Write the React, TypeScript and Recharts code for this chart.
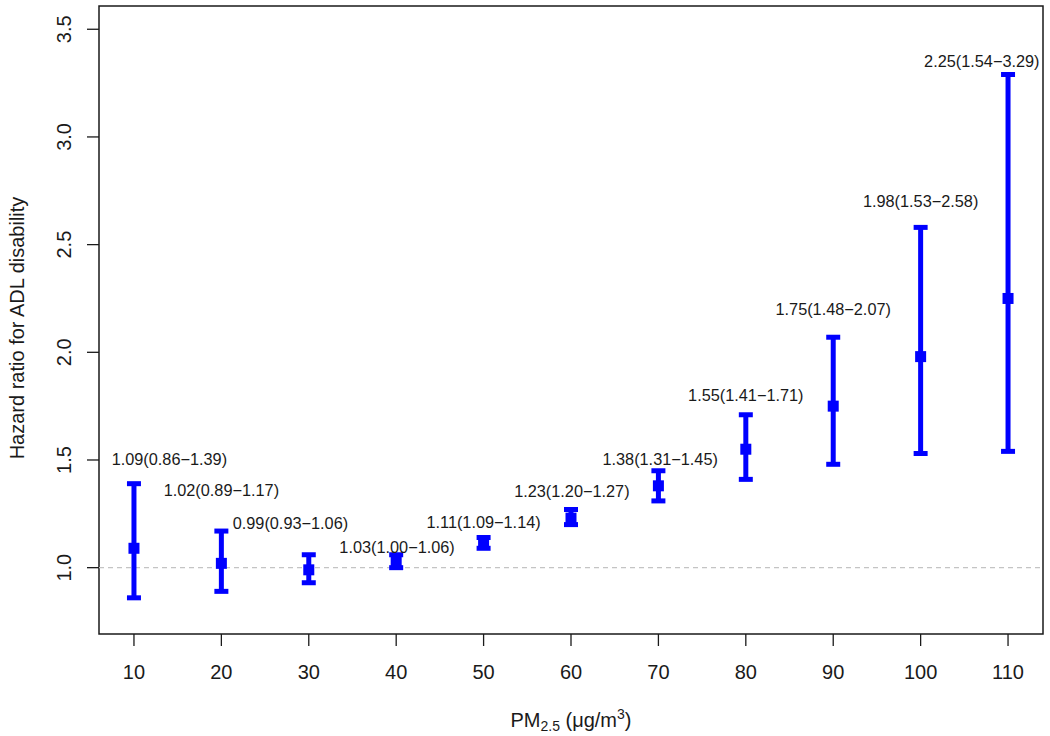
import React from 'react';
import {
  ComposedChart,
  Scatter,
  ErrorBar,
  XAxis,
  YAxis,
  ReferenceLine,
  ReferenceArea,
} from 'recharts';

// PM2.5 levels and hazard ratios (95% CI)
const pm = [10, 20, 30, 40, 50, 60, 70, 80, 90, 100, 110];
const hr = [1.09, 1.02, 0.99, 1.03, 1.11, 1.23, 1.38, 1.55, 1.75, 1.98, 2.25];
const lower = [0.86, 0.89, 0.93, 1.0, 1.09, 1.2, 1.31, 1.41, 1.48, 1.53, 1.54];
const upper = [1.39, 1.17, 1.06, 1.06, 1.14, 1.27, 1.45, 1.71, 2.07, 2.58, 3.29];

// where each annotation sits (data units)
const labelX = [14.05, 20, 27.9, 40.1, 50, 60.1, 70.2, 80, 90, 100, 107];
const labelY = [1.503, 1.36, 1.209, 1.097, 1.211, 1.356, 1.505, 1.8, 2.202, 2.702, 3.352];

const xTicks = [10, 20, 30, 40, 50, 60, 70, 80, 90, 100, 110];
const yTicks = [1.0, 1.5, 2.0, 2.5, 3.0, 3.5];

const X_DOMAIN: [number, number] = [6, 114];
const Y_DOMAIN: [number, number] = [0.692, 3.608];

const FONT = '"Liberation Sans", Arial, Helvetica, sans-serif';
const BLUE = '#0000ff';
const INK = '#1a1a1a';

const points = pm.map((x, i) => ({
  x,
  y: hr[i],
  err: [hr[i] - lower[i], upper[i] - hr[i]],
}));

const labels = pm.map((_, i) => ({
  x: labelX[i],
  y: labelY[i],
  text: `${hr[i].toFixed(2)}(${lower[i].toFixed(2)}\u2212${upper[i].toFixed(2)})`,
}));

const PLOT_BOTTOM = 634;

function SquareMark(props: any) {
  const { cx, cy } = props;
  if (cx == null || cy == null) return null;
  const s = 11;
  return <rect x={cx - s / 2} y={cy - s / 2} width={s} height={s} fill={BLUE} />;
}

function LabelMark(props: any) {
  const { cx, cy, payload } = props;
  if (cx == null || cy == null) return null;
  return (
    <text
      x={cx}
      y={cy}
      dy="0.36em"
      textAnchor="middle"
      fontFamily={FONT}
      fontSize={16.3}
      fill={INK}
    >
      {payload.text}
    </text>
  );
}

function XTick(props: any) {
  const { x, payload } = props;
  return (
    <text x={x} y={PLOT_BOTTOM + 45} textAnchor="middle" fontFamily={FONT} fontSize={20} fill={INK}>
      {payload.value}
    </text>
  );
}

function YTick(props: any) {
  const { y, payload } = props;
  const tx = 64;
  return (
    <text
      x={tx}
      y={y}
      dy="0.36em"
      transform={`rotate(-90, ${tx}, ${y})`}
      textAnchor="middle"
      fontFamily={FONT}
      fontSize={20}
      fill={INK}
    >
      {Number(payload.value).toFixed(1)}
    </text>
  );
}

export default function App() {
  return (
    <div style={{ position: 'absolute', left: 0, top: 0, background: '#fff' }}>
      <ComposedChart
        width={1050}
        height={736}
        margin={{ top: 6, right: 7, left: 0, bottom: 0 }}
      >
        <XAxis
          type="number"
          dataKey="x"
          domain={X_DOMAIN}
          allowDataOverflow
          ticks={xTicks}
          axisLine={false}
          tickLine={{ stroke: INK, strokeWidth: 1.3 }}
          tickSize={12}
          tick={<XTick />}
          height={102}
          interval={0}
        />
        <YAxis
          type="number"
          dataKey="y"
          domain={Y_DOMAIN}
          allowDataOverflow
          ticks={yTicks}
          axisLine={false}
          tickLine={{ stroke: INK, strokeWidth: 1.3 }}
          tickSize={12}
          tick={<YTick />}
          width={99}
          interval={0}
        />
        <ReferenceArea
          x1={X_DOMAIN[0]}
          x2={X_DOMAIN[1]}
          y1={Y_DOMAIN[0]}
          y2={Y_DOMAIN[1]}
          fill="none"
          fillOpacity={0}
          stroke={INK}
          strokeWidth={1.5}
          ifOverflow="visible"
        />
        <ReferenceLine y={1} stroke="#c4c4c4" strokeWidth={1.2} strokeDasharray="5 4" />
        <Scatter data={points} dataKey="y" shape={<SquareMark />} isAnimationActive={false}>
          <ErrorBar
            dataKey="err"
            direction="y"
            width={7}
            stroke={BLUE}
            strokeWidth={5}
            isAnimationActive={false}
          />
        </Scatter>
        <Scatter data={labels} dataKey="y" shape={<LabelMark />} isAnimationActive={false} />
      </ComposedChart>
      <svg
        width={1050}
        height={736}
        style={{ position: 'absolute', left: 0, top: 0, pointerEvents: 'none' }}
      >
        <text
          x={17}
          y={328}
          dy="0.36em"
          transform="rotate(-90, 17, 328)"
          textAnchor="middle"
          fontFamily={FONT}
          fontSize={20}
          fill={INK}
        >
          Hazard ratio for ADL disability
        </text>
        <text x={571} y={727} textAnchor="middle" fontFamily={FONT} fontSize={20} fill={INK}>
          PM
          <tspan fontSize={14} dy={4}>2.5</tspan>
          <tspan dy={-4}> (μg/m</tspan>
          <tspan fontSize={14} dy={-8}>3</tspan>
          <tspan dy={8}>)</tspan>
        </text>
      </svg>
    </div>
  );
}
